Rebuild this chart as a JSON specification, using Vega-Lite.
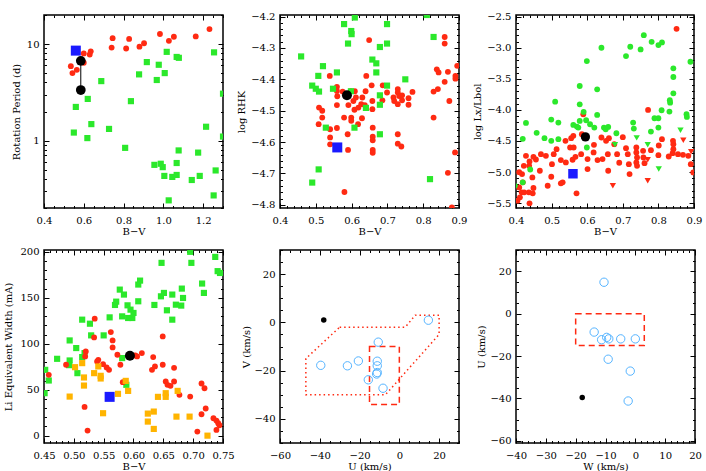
{
"$schema":"https://vega.github.io/schema/vega-lite/v6.json",
"autosize":{"type":"pad"},
"padding":{"left":2,"top":9,"right":0,"bottom":0},
"background":"white",
"config":{
 "view":{"stroke":"black","strokeWidth":1.5},
 "axis":{"grid":false,"domain":false,"labelFont":"DejaVu Serif","labelFontSize":10,"labelColor":"black","titleFont":"DejaVu Serif","titleFontSize":10,"titleFontWeight":"normal","titleColor":"black","tickColor":"black","tickWidth":1,"labelOverlap":false,"labelFlush":false,"labelPadding":10},
 "axisBottom":{"titleY":23,"titleBaseline":"middle","labelPadding":12},
 "axisLeft":{"titleBaseline":"middle"}
},
"datasets":{
 "p1_red":[{"bv":0.535,"p":5.9},{"bv":0.543,"p":5.0},{"bv":0.565,"p":5.4},{"bv":0.6,"p":8.0},{"bv":0.63,"p":7.8},{"bv":0.635,"p":8.4},{"bv":0.6,"p":6.4},{"bv":0.745,"p":11.5},{"bv":0.74,"p":9.2},{"bv":0.828,"p":11.3},{"bv":0.813,"p":9.0},{"bv":0.88,"p":9.4},{"bv":0.903,"p":10.2},{"bv":0.983,"p":12.7},{"bv":1.028,"p":10.8},{"bv":1.053,"p":11.9},{"bv":1.163,"p":12.0},{"bv":1.232,"p":14.3}],
 "p1_green":[{"bv":1.017,"p":8.3},{"bv":1.255,"p":8.2},{"bv":0.917,"p":6.5},{"bv":0.977,"p":6.1},{"bv":1.067,"p":7.35},{"bv":1.078,"p":7.2},{"bv":1.007,"p":5.0},{"bv":0.878,"p":4.85},{"bv":0.967,"p":4.24},{"bv":0.688,"p":4.13},{"bv":0.837,"p":2.56},{"bv":0.62,"p":2.7},{"bv":0.56,"p":2.23},{"bv":0.638,"p":1.48},{"bv":0.55,"p":1.21},{"bv":0.727,"p":1.32},{"bv":0.618,"p":1.06},{"bv":0.808,"p":0.84},{"bv":1.215,"p":1.39},{"bv":1.3,"p":1.1},{"bv":1.3,"p":3.06},{"bv":1.077,"p":0.79},{"bv":1.175,"p":0.75},{"bv":0.955,"p":0.56},{"bv":0.987,"p":0.575},{"bv":0.997,"p":0.53},{"bv":1.067,"p":0.585},{"bv":1.005,"p":0.43},{"bv":1.045,"p":0.42},{"bv":1.067,"p":0.44},{"bv":1.143,"p":0.39},{"bv":1.183,"p":0.43},{"bv":1.263,"p":0.49},{"bv":1.027,"p":0.24},{"bv":1.253,"p":0.27}],
 "p1_blue":[{"bv":0.56,"p":8.55}],
 "p1_black":[{"bv":0.585,"p":6.7},{"bv":0.585,"p":3.34}],
 "p1_link":[{"bv":0.585,"plo":3.34,"phi":6.7}],
 "p2_red":[{"bv":0.649,"v":-4.275},{"bv":0.86,"v":-4.265},{"bv":0.86,"v":-4.286},{"bv":0.641,"v":-4.389},{"bv":0.539,"v":-4.389},{"bv":0.838,"v":-4.368},{"bv":0.843,"v":-4.378},{"bv":0.869,"v":-4.376},{"bv":0.895,"v":-4.357},{"bv":0.89,"v":-4.389},{"bv":0.89,"v":-4.398},{"bv":0.86,"v":-4.408},{"bv":0.841,"v":-4.431},{"bv":0.829,"v":-4.439},{"bv":0.873,"v":-4.469},{"bv":0.829,"v":-4.522},{"bv":0.869,"v":-4.698},{"bv":0.88,"v":-4.808},{"bv":0.889,"v":-4.633},{"bv":0.559,"v":-4.424},{"bv":0.559,"v":-4.437},{"bv":0.56,"v":-4.454},{"bv":0.559,"v":-4.482},{"bv":0.509,"v":-4.49},{"bv":0.518,"v":-4.5},{"bv":0.518,"v":-4.522},{"bv":0.508,"v":-4.543},{"bv":0.54,"v":-4.559},{"bv":0.54,"v":-4.585},{"bv":0.54,"v":-4.607},{"bv":0.559,"v":-4.555},{"bv":0.575,"v":-4.439},{"bv":0.591,"v":-4.482},{"bv":0.598,"v":-4.438},{"bv":0.609,"v":-4.438},{"bv":0.612,"v":-4.458},{"bv":0.605,"v":-4.469},{"bv":0.579,"v":-4.522},{"bv":0.589,"v":-4.575},{"bv":0.59,"v":-4.625},{"bv":0.599,"v":-4.522},{"bv":0.599,"v":-4.532},{"bv":0.608,"v":-4.497},{"bv":0.619,"v":-4.49},{"bv":0.627,"v":-4.479},{"bv":0.637,"v":-4.482},{"bv":0.629,"v":-4.524},{"bv":0.618,"v":-4.543},{"bv":0.63,"v":-4.458},{"bv":0.639,"v":-4.438},{"bv":0.656,"v":-4.419},{"bv":0.658,"v":-4.469},{"bv":0.658,"v":-4.495},{"bv":0.659,"v":-4.554},{"bv":0.659,"v":-4.583},{"bv":0.659,"v":-4.594},{"bv":0.659,"v":-4.625},{"bv":0.659,"v":-4.634},{"bv":0.687,"v":-4.419},{"bv":0.686,"v":-4.467},{"bv":0.699,"v":-4.442},{"bv":0.717,"v":-4.458},{"bv":0.719,"v":-4.469},{"bv":0.729,"v":-4.431},{"bv":0.729,"v":-4.442},{"bv":0.733,"v":-4.453},{"bv":0.729,"v":-4.479},{"bv":0.741,"v":-4.451},{"bv":0.741,"v":-4.467},{"bv":0.759,"v":-4.46},{"bv":0.759,"v":-4.481},{"bv":0.77,"v":-4.44},{"bv":0.729,"v":-4.575},{"bv":0.729,"v":-4.605},{"bv":0.739,"v":-4.614},{"bv":0.58,"v":-4.759}],
 "p2_green":[{"bv":0.459,"v":-4.327},{"bv":0.579,"v":-4.224},{"bv":0.609,"v":-4.203},{"bv":0.599,"v":-4.246},{"bv":0.6,"v":-4.256},{"bv":0.59,"v":-4.286},{"bv":0.679,"v":-4.297},{"bv":0.699,"v":-4.224},{"bv":0.699,"v":-4.286},{"bv":0.81,"v":-4.195},{"bv":0.829,"v":-4.265},{"bv":0.52,"v":-4.358},{"bv":0.507,"v":-4.389},{"bv":0.559,"v":-4.378},{"bv":0.658,"v":-4.337},{"bv":0.669,"v":-4.349},{"bv":0.669,"v":-4.378},{"bv":0.75,"v":-4.4},{"bv":0.49,"v":-4.42},{"bv":0.5,"v":-4.43},{"bv":0.509,"v":-4.439},{"bv":0.548,"v":-4.43},{"bv":0.598,"v":-4.438},{"bv":0.699,"v":-4.42},{"bv":0.679,"v":-4.451},{"bv":0.679,"v":-4.481},{"bv":0.64,"v":-4.491},{"bv":0.528,"v":-4.554},{"bv":0.608,"v":-4.554},{"bv":0.679,"v":-4.575},{"bv":0.508,"v":-4.687},{"bv":0.49,"v":-4.729},{"bv":0.819,"v":-4.718}],
 "p2_blue":[{"bv":0.56,"v":-4.617}],
 "p2_black":[{"bv":0.587,"v":-4.451}],
 "p3_red":[{"bv":0.851,"v":-2.693},{"bv":0.771,"v":-4.0},{"bv":0.589,"v":-4.069},{"bv":0.539,"v":-4.498},{"bv":0.514,"v":-4.632},{"bv":0.552,"v":-4.605},{"bv":0.555,"v":-4.455},{"bv":0.561,"v":-4.417},{"bv":0.585,"v":-4.39},{"bv":0.619,"v":-4.562},{"bv":0.618,"v":-4.685},{"bv":0.64,"v":-4.444},{"bv":0.653,"v":-4.498},{"bv":0.661,"v":-4.455},{"bv":0.676,"v":-4.551},{"bv":0.7,"v":-4.439},{"bv":0.684,"v":-4.712},{"bv":0.709,"v":-4.616},{"bv":0.714,"v":-4.712},{"bv":0.738,"v":-4.605},{"bv":0.738,"v":-4.685},{"bv":0.74,"v":-4.766},{"bv":0.738,"v":-4.846},{"bv":0.74,"v":-4.9},{"bv":0.757,"v":-4.659},{"bv":0.758,"v":-4.766},{"bv":0.761,"v":-4.857},{"bv":0.779,"v":-4.648},{"bv":0.8,"v":-4.728},{"bv":0.81,"v":-4.471},{"bv":0.801,"v":-4.573},{"bv":0.829,"v":-4.75},{"bv":0.84,"v":-4.696},{"bv":0.842,"v":-4.632},{"bv":0.842,"v":-4.551},{"bv":0.841,"v":-4.498},{"bv":0.855,"v":-4.712},{"bv":0.869,"v":-4.723},{"bv":0.884,"v":-4.739},{"bv":0.891,"v":-4.873},{"bv":0.898,"v":-5.007},{"bv":0.717,"v":-4.873},{"bv":0.719,"v":-5.034},{"bv":0.69,"v":-4.851},{"bv":0.658,"v":-4.712},{"bv":0.659,"v":-4.98},{"bv":0.643,"v":-4.792},{"bv":0.629,"v":-4.808},{"bv":0.601,"v":-4.792},{"bv":0.601,"v":-4.953},{"bv":0.583,"v":-4.712},{"bv":0.567,"v":-4.755},{"bv":0.559,"v":-4.803},{"bv":0.562,"v":-4.605},{"bv":0.54,"v":-4.846},{"bv":0.526,"v":-4.808},{"bv":0.531,"v":-5.167},{"bv":0.526,"v":-5.183},{"bv":0.57,"v":-5.344},{"bv":0.506,"v":-4.712},{"bv":0.501,"v":-4.873},{"bv":0.499,"v":-5.077},{"bv":0.489,"v":-5.221},{"bv":0.484,"v":-4.739},{"bv":0.47,"v":-4.712},{"bv":0.467,"v":-4.98},{"bv":0.456,"v":-4.798},{"bv":0.449,"v":-4.755},{"bv":0.446,"v":-5.087},{"bv":0.438,"v":-4.83},{"bv":0.437,"v":-4.9},{"bv":0.428,"v":-4.739},{"bv":0.422,"v":-4.9},{"bv":0.417,"v":-5.034},{"bv":0.409,"v":-5.002},{"bv":0.409,"v":-5.248},{"bv":0.416,"v":-5.328},{"bv":0.411,"v":-5.408},{"bv":0.423,"v":-5.328},{"bv":0.436,"v":-5.328},{"bv":0.447,"v":-5.344},{"bv":0.449,"v":-5.258},{"bv":0.438,"v":-5.505},{"bv":0.404,"v":-5.462},{"bv":0.419,"v":-5.167}],
 "p3_red_up":[{"bv":0.77,"v":-4.803},{"bv":0.77,"v":-5.14},{"bv":0.672,"v":-5.22},{"bv":0.87,"v":-4.487},{"bv":0.892,"v":-4.675}],
 "p3_green":[{"bv":0.64,"v":-2.998},{"bv":0.709,"v":-3.132},{"bv":0.721,"v":-2.982},{"bv":0.75,"v":-3.025},{"bv":0.759,"v":-2.795},{"bv":0.781,"v":-2.902},{"bv":0.8,"v":-2.955},{"bv":0.81,"v":-2.912},{"bv":0.89,"v":-3.223},{"bv":0.599,"v":-3.212},{"bv":0.842,"v":-3.33},{"bv":0.842,"v":-3.469},{"bv":0.842,"v":-3.732},{"bv":0.832,"v":-3.844},{"bv":0.833,"v":-3.882},{"bv":0.809,"v":-4.005},{"bv":0.8,"v":-4.134},{"bv":0.789,"v":-4.134},{"bv":0.779,"v":-4.348},{"bv":0.8,"v":-4.284},{"bv":0.831,"v":-4.027},{"bv":0.879,"v":-4.069},{"bv":0.88,"v":-4.112},{"bv":0.628,"v":-3.668},{"bv":0.579,"v":-3.614},{"bv":0.579,"v":-3.909},{"bv":0.59,"v":-4.032},{"bv":0.51,"v":-3.866},{"bv":0.499,"v":-4.155},{"bv":0.519,"v":-4.203},{"bv":0.48,"v":-4.455},{"bv":0.458,"v":-4.369},{"bv":0.428,"v":-4.209},{"bv":0.419,"v":-4.466},{"bv":0.499,"v":-4.498},{"bv":0.519,"v":-4.471},{"bv":0.561,"v":-4.241},{"bv":0.571,"v":-4.268},{"bv":0.579,"v":-4.177},{"bv":0.575,"v":-4.284},{"bv":0.597,"v":-4.166},{"bv":0.608,"v":-4.23},{"bv":0.628,"v":-4.08},{"bv":0.62,"v":-4.284},{"bv":0.647,"v":-4.284},{"bv":0.659,"v":-4.273},{"bv":0.652,"v":-4.311},{"bv":0.682,"v":-4.375},{"bv":0.729,"v":-4.203},{"bv":0.731,"v":-4.3},{"bv":0.599,"v":-4.605},{"bv":0.44,"v":-4.959},{"bv":0.419,"v":-5.167},{"bv":0.397,"v":-5.221}],
 "p3_green_up":[{"bv":0.678,"v":-4.562},{"bv":0.739,"v":-4.45},{"bv":0.77,"v":-4.562},{"bv":0.801,"v":-4.953},{"bv":0.862,"v":-4.327}],
 "p3_blue":[{"bv":0.56,"v":-5.028}],
 "p3_black":[{"bv":0.595,"v":-4.434}],
 "p4_red":[{"bv":0.535,"ew":127.3},{"bv":0.534,"ew":106.9},{"bv":0.562,"ew":112.7},{"bv":0.565,"ew":103.6},{"bv":0.565,"ew":96.0},{"bv":0.52,"ew":91.6},{"bv":0.519,"ew":86.2},{"bv":0.573,"ew":88},{"bv":0.541,"ew":82.5},{"bv":0.539,"ew":80.7},{"bv":0.549,"ew":77.8},{"bv":0.555,"ew":74.2},{"bv":0.559,"ew":71.6},{"bv":0.578,"ew":77.1},{"bv":0.582,"ew":58.2},{"bv":0.487,"ew":77.1},{"bv":0.458,"ew":66.2},{"bv":0.603,"ew":87.3},{"bv":0.606,"ew":86.2},{"bv":0.614,"ew":89.8},{"bv":0.633,"ew":85.5},{"bv":0.636,"ew":75.3},{"bv":0.631,"ew":71.6},{"bv":0.649,"ew":108},{"bv":0.649,"ew":77.1},{"bv":0.668,"ew":73.8},{"bv":0.654,"ew":58.9},{"bv":0.657,"ew":55.3},{"bv":0.662,"ew":54.2},{"bv":0.668,"ew":58.9},{"bv":0.677,"ew":44.4},{"bv":0.695,"ew":42.5},{"bv":0.714,"ew":56.7},{"bv":0.719,"ew":51.6},{"bv":0.714,"ew":23.3},{"bv":0.721,"ew":29.5},{"bv":0.707,"ew":4.4},{"bv":0.734,"ew":18.9},{"bv":0.739,"ew":16.4},{"bv":0.742,"ew":13.5},{"bv":0.744,"ew":11.3},{"bv":0.739,"ew":6.2},{"bv":0.518,"ew":31.3},{"bv":0.523,"ew":5.5}],
 "p4_green":[{"bv":0.695,"ew":200},{"bv":0.737,"ew":194.5},{"bv":0.697,"ew":188},{"bv":0.647,"ew":188},{"bv":0.741,"ew":179},{"bv":0.745,"ew":177},{"bv":0.715,"ew":165.5},{"bv":0.718,"ew":155.3},{"bv":0.611,"ew":168.7},{"bv":0.608,"ew":164.4},{"bv":0.577,"ew":158.9},{"bv":0.584,"ew":153.5},{"bv":0.651,"ew":155.3},{"bv":0.646,"ew":151.6},{"bv":0.665,"ew":153.5},{"bv":0.681,"ew":160},{"bv":0.683,"ew":149.8},{"bv":0.68,"ew":141.5},{"bv":0.671,"ew":142.5},{"bv":0.608,"ew":146.2},{"bv":0.59,"ew":141.8},{"bv":0.635,"ew":142.2},{"bv":0.569,"ew":142.2},{"bv":0.571,"ew":145.8},{"bv":0.595,"ew":137.1},{"bv":0.598,"ew":128},{"bv":0.591,"ew":128},{"bv":0.581,"ew":129.8},{"bv":0.56,"ew":128.7},{"bv":0.6,"ew":133.5},{"bv":0.656,"ew":136.4},{"bv":0.665,"ew":126.2},{"bv":0.514,"ew":126.2},{"bv":0.527,"ew":121.8},{"bv":0.529,"ew":109.1},{"bv":0.55,"ew":109.1},{"bv":0.493,"ew":103.6},{"bv":0.504,"ew":95.3},{"bv":0.472,"ew":83.6},{"bv":0.493,"ew":81.8},{"bv":0.492,"ew":76.7},{"bv":0.518,"ew":89.8},{"bv":0.514,"ew":85.5},{"bv":0.506,"ew":68},{"bv":0.581,"ew":84.4},{"bv":0.588,"ew":55.3},{"bv":0.452,"ew":71.6},{"bv":0.458,"ew":60},{"bv":0.451,"ew":46.2}],
 "p4_orange":[{"bv":0.514,"ew":78.9},{"bv":0.502,"ew":74.5},{"bv":0.517,"ew":63.3},{"bv":0.517,"ew":54.5},{"bv":0.534,"ew":68},{"bv":0.541,"ew":75.3},{"bv":0.545,"ew":65.1},{"bv":0.545,"ew":62.2},{"bv":0.493,"ew":42.5},{"bv":0.549,"ew":24.4},{"bv":0.574,"ew":45.5},{"bv":0.587,"ew":59.6},{"bv":0.591,"ew":48.7},{"bv":0.624,"ew":24},{"bv":0.624,"ew":15.3},{"bv":0.634,"ew":26.2},{"bv":0.634,"ew":7.3},{"bv":0.641,"ew":42.2},{"bv":0.654,"ew":46.2},{"bv":0.654,"ew":42.2},{"bv":0.674,"ew":48.7},{"bv":0.672,"ew":20.7},{"bv":0.694,"ew":20.7},{"bv":0.724,"ew":0}],
 "p4_blue":[{"bv":0.56,"ew":42.2}],
 "p4_black":[{"bv":0.594,"ew":86.9}],
 "p5_stars":[{"u":14.6,"v":0.9},{"u":-10.6,"v":-8.2},{"u":-39.5,"v":-17.8},{"u":-26.1,"v":-18},{"u":-20.6,"v":-16},{"u":-11.1,"v":-16.1},{"u":-11.1,"v":-18},{"u":-11.1,"v":-20.8},{"u":-11.4,"v":-21.4},{"u":-15.6,"v":-23.8},{"u":-8.2,"v":-27.3}],
 "p5_sun":[{"u":-38,"v":1}],
 "p5_poly":[{"i":0,"u":-30,"v":-2},{"i":1,"u":3,"v":-2},{"i":2,"u":8,"v":3},{"i":3,"u":20,"v":3},{"i":4,"u":20,"v":-5},{"i":5,"u":-7,"v":-30},{"i":6,"u":-47,"v":-30},{"i":7,"u":-47,"v":-15},{"i":8,"u":-30,"v":-2}],
 "p5_box":[{"u1":-15,"u2":0,"v1":-34,"v2":-10}],
 "p6_stars":[{"w":-10.5,"u":14.8},{"w":-13.8,"u":-8.7},{"w":-11.3,"u":-12.3},{"w":-9.6,"u":-11.2},{"w":-8.9,"u":-11.9},{"w":-4.9,"u":-11.9},{"w":0.0,"u":-11.9},{"w":-9.1,"u":-21.5},{"w":-1.7,"u":-27.1},{"w":-2.4,"u":-41.2}],
 "p6_sun":[{"w":-17.8,"u":-39.6}],
 "p6_box":[{"w1":-20,"w2":3,"u1":-15,"u2":0}]
},
"concat":[
 {"width":179,"height":193,
  "layer":[
   {"data":{"name":"p1_red"},"mark":{"type":"point","shape":"circle","filled":true,"color":"#ff2a12","size":34,"opacity":1,"clip":true},
    "encoding":{
     "x":{"field":"bv","type":"quantitative","scale":{"domain":[0.4,1.3],"nice":false,"zero":false},
      "axis":{"orient":"bottom","title":"B−V","values":[0.4,0.45,0.5,0.55,0.6,0.65,0.7,0.75,0.8,0.85,0.9,0.95,1.0,1.05,1.1,1.15,1.2,1.25,1.3],"labelExpr":"abs(datum.value*5-round(datum.value*5))<0.001 ? format(datum.value,'.1f') : ''","tickSize":{"condition":{"test":"abs(datum.value*5-round(datum.value*5))<0.001","value":-5},"value":-2.5}}},
     "y":{"field":"p","type":"quantitative","scale":{"type":"log","domain":[0.2,20],"nice":false},
      "axis":{"orient":"left","title":"Rotation Period (d)","titleX":-28,"values":[0.2,0.3,0.4,0.5,0.6,0.7,0.8,0.9,1,2,3,4,5,6,7,8,9,10,20],"labelExpr":"datum.value==1||datum.value==10 ? format(datum.value,'d') : ''","tickSize":{"condition":{"test":"datum.value==1||datum.value==10","value":-5},"value":-2.5}}}}},
   {"data":{"name":"p1_green"},"mark":{"type":"point","shape":"square","filled":true,"color":"#2be82b","size":38,"opacity":1,"clip":true},
    "encoding":{
     "x":{"field":"bv","type":"quantitative","scale":{"domain":[0.4,1.3],"nice":false,"zero":false},
      "axis":{"orient":"top","labels":false,"title":null,"values":[0.4,0.45,0.5,0.55,0.6,0.65,0.7,0.75,0.8,0.85,0.9,0.95,1.0,1.05,1.1,1.15,1.2,1.25,1.3],"tickSize":{"condition":{"test":"abs(datum.value*5-round(datum.value*5))<0.001","value":-5},"value":-2.5}}},
     "y":{"field":"p","type":"quantitative","scale":{"type":"log","domain":[0.2,20],"nice":false},
      "axis":{"orient":"right","labels":false,"title":null,"values":[0.2,0.3,0.4,0.5,0.6,0.7,0.8,0.9,1,2,3,4,5,6,7,8,9,10,20],"tickSize":{"condition":{"test":"datum.value==1||datum.value==10","value":-5},"value":-2.5}}}}},
   {"data":{"name":"p1_blue"},"mark":{"type":"point","shape":"square","filled":true,"color":"#1a1aff","size":100,"opacity":1,"clip":true},
    "encoding":{"x":{"field":"bv","type":"quantitative","axis":null},"y":{"field":"p","type":"quantitative","axis":null}}},
   {"data":{"name":"p1_link"},"mark":{"type":"rule","color":"black","strokeWidth":1},
    "encoding":{"x":{"field":"bv","type":"quantitative","axis":null},"y":{"field":"plo","type":"quantitative","axis":null},"y2":{"field":"phi"}}},
   {"data":{"name":"p1_black"},"mark":{"type":"point","shape":"circle","filled":true,"color":"black","size":95,"opacity":1,"clip":true},
    "encoding":{"x":{"field":"bv","type":"quantitative","axis":null},"y":{"field":"p","type":"quantitative","axis":null}}}
  ],
  "resolve":{"axis":{"x":"independent","y":"independent"}}},
 {"width":179,"height":193,
  "layer":[
   {"data":{"name":"p2_red"},"mark":{"type":"point","shape":"circle","filled":true,"color":"#ff2a12","size":34,"opacity":1,"clip":true},
    "encoding":{
     "x":{"field":"bv","type":"quantitative","scale":{"domain":[0.4,0.9],"nice":false,"zero":false},
      "axis":{"orient":"bottom","title":"B−V","values":[0.4,0.42,0.44,0.46,0.48,0.5,0.52,0.54,0.56,0.58,0.6,0.62,0.64,0.66,0.68,0.7,0.72,0.74,0.76,0.78,0.8,0.82,0.84,0.86,0.88,0.9],"labelExpr":"abs(datum.value*10-round(datum.value*10))<0.001 ? format(datum.value,'.1f') : ''","tickSize":{"condition":{"test":"abs(datum.value*10-round(datum.value*10))<0.001","value":-5},"value":-2.5}}},
     "y":{"field":"v","type":"quantitative","scale":{"domain":[-4.81,-4.195],"nice":false,"zero":false},
      "axis":{"orient":"left","title":"log RHK","titleX":-39,"values":[-4.8,-4.78,-4.76,-4.74,-4.72,-4.7,-4.68,-4.66,-4.64,-4.62,-4.6,-4.58,-4.56,-4.54,-4.52,-4.5,-4.48,-4.46,-4.44,-4.42,-4.4,-4.38,-4.36,-4.34,-4.32,-4.3,-4.28,-4.26,-4.24,-4.22,-4.2],"labelExpr":"abs(datum.value*10-round(datum.value*10))<0.001 ? format(datum.value,'.1f') : ''","tickSize":{"condition":{"test":"abs(datum.value*10-round(datum.value*10))<0.001","value":-5},"value":-2.5}}}}},
   {"data":{"name":"p2_green"},"mark":{"type":"point","shape":"square","filled":true,"color":"#2be82b","size":38,"opacity":1,"clip":true},
    "encoding":{
     "x":{"field":"bv","type":"quantitative","scale":{"domain":[0.4,0.9],"nice":false,"zero":false},
      "axis":{"orient":"top","labels":false,"title":null,"values":[0.4,0.42,0.44,0.46,0.48,0.5,0.52,0.54,0.56,0.58,0.6,0.62,0.64,0.66,0.68,0.7,0.72,0.74,0.76,0.78,0.8,0.82,0.84,0.86,0.88,0.9],"tickSize":{"condition":{"test":"abs(datum.value*10-round(datum.value*10))<0.001","value":-5},"value":-2.5}}},
     "y":{"field":"v","type":"quantitative","scale":{"domain":[-4.81,-4.195],"nice":false,"zero":false},
      "axis":{"orient":"right","labels":false,"title":null,"values":[-4.8,-4.78,-4.76,-4.74,-4.72,-4.7,-4.68,-4.66,-4.64,-4.62,-4.6,-4.58,-4.56,-4.54,-4.52,-4.5,-4.48,-4.46,-4.44,-4.42,-4.4,-4.38,-4.36,-4.34,-4.32,-4.3,-4.28,-4.26,-4.24,-4.22,-4.2],"tickSize":{"condition":{"test":"abs(datum.value*10-round(datum.value*10))<0.001","value":-5},"value":-2.5}}}}},
   {"data":{"name":"p2_blue"},"mark":{"type":"point","shape":"square","filled":true,"color":"#1a1aff","size":100,"opacity":1,"clip":true},
    "encoding":{"x":{"field":"bv","type":"quantitative","axis":null},"y":{"field":"v","type":"quantitative","axis":null}}},
   {"data":{"name":"p2_black"},"mark":{"type":"point","shape":"circle","filled":true,"color":"black","size":100,"opacity":1,"clip":true},
    "encoding":{"x":{"field":"bv","type":"quantitative","axis":null},"y":{"field":"v","type":"quantitative","axis":null}}}
  ],
  "resolve":{"axis":{"x":"independent","y":"independent"}}},
 {"width":178,"height":193,
  "layer":[
   {"data":{"name":"p3_red"},"mark":{"type":"point","shape":"circle","filled":true,"color":"#ff2a12","size":34,"opacity":1,"clip":true},
    "encoding":{
     "x":{"field":"bv","type":"quantitative","scale":{"domain":[0.4,0.9],"nice":false,"zero":false},
      "axis":{"orient":"bottom","title":"B−V","values":[0.4,0.42,0.44,0.46,0.48,0.5,0.52,0.54,0.56,0.58,0.6,0.62,0.64,0.66,0.68,0.7,0.72,0.74,0.76,0.78,0.8,0.82,0.84,0.86,0.88,0.9],"labelExpr":"abs(datum.value*10-round(datum.value*10))<0.001 ? format(datum.value,'.1f') : ''","tickSize":{"condition":{"test":"abs(datum.value*10-round(datum.value*10))<0.001","value":-5},"value":-2.5}}},
     "y":{"field":"v","type":"quantitative","scale":{"domain":[-5.58,-2.47],"nice":false,"zero":false},
      "axis":{"orient":"left","title":"log Lx/Lbol","titleX":-39,"values":[-5.5,-5.4,-5.3,-5.2,-5.1,-5.0,-4.9,-4.8,-4.7,-4.6,-4.5,-4.4,-4.3,-4.2,-4.1,-4.0,-3.9,-3.8,-3.7,-3.6,-3.5,-3.4,-3.3,-3.2,-3.1,-3.0,-2.9,-2.8,-2.7,-2.6,-2.5],"labelExpr":"abs(datum.value*2-round(datum.value*2))<0.001 ? format(datum.value,'.1f') : ''","tickSize":{"condition":{"test":"abs(datum.value*2-round(datum.value*2))<0.001","value":-5},"value":-2.5}}}}},
   {"data":{"name":"p3_red_up"},"mark":{"type":"point","shape":"triangle-down","filled":true,"color":"#ff2a12","size":40,"opacity":1,"clip":true},
    "encoding":{
     "x":{"field":"bv","type":"quantitative","scale":{"domain":[0.4,0.9],"nice":false,"zero":false},
      "axis":{"orient":"top","labels":false,"title":null,"values":[0.4,0.42,0.44,0.46,0.48,0.5,0.52,0.54,0.56,0.58,0.6,0.62,0.64,0.66,0.68,0.7,0.72,0.74,0.76,0.78,0.8,0.82,0.84,0.86,0.88,0.9],"tickSize":{"condition":{"test":"abs(datum.value*10-round(datum.value*10))<0.001","value":-5},"value":-2.5}}},
     "y":{"field":"v","type":"quantitative","scale":{"domain":[-5.58,-2.47],"nice":false,"zero":false},
      "axis":{"orient":"right","labels":false,"title":null,"values":[-5.5,-5.4,-5.3,-5.2,-5.1,-5.0,-4.9,-4.8,-4.7,-4.6,-4.5,-4.4,-4.3,-4.2,-4.1,-4.0,-3.9,-3.8,-3.7,-3.6,-3.5,-3.4,-3.3,-3.2,-3.1,-3.0,-2.9,-2.8,-2.7,-2.6,-2.5],"tickSize":{"condition":{"test":"abs(datum.value*2-round(datum.value*2))<0.001","value":-5},"value":-2.5}}}}},
   {"data":{"name":"p3_green"},"mark":{"type":"point","shape":"circle","filled":true,"color":"#2be82b","size":34,"opacity":1,"clip":true},
    "encoding":{"x":{"field":"bv","type":"quantitative","axis":null},"y":{"field":"v","type":"quantitative","axis":null}}},
   {"data":{"name":"p3_green_up"},"mark":{"type":"point","shape":"triangle-down","filled":true,"color":"#2be82b","size":40,"opacity":1,"clip":true},
    "encoding":{"x":{"field":"bv","type":"quantitative","axis":null},"y":{"field":"v","type":"quantitative","axis":null}}},
   {"data":{"name":"p3_blue"},"mark":{"type":"point","shape":"square","filled":true,"color":"#1a1aff","size":90,"opacity":1,"clip":true},
    "encoding":{"x":{"field":"bv","type":"quantitative","axis":null},"y":{"field":"v","type":"quantitative","axis":null}}},
   {"data":{"name":"p3_black"},"mark":{"type":"point","shape":"circle","filled":true,"color":"black","size":85,"opacity":1,"clip":true},
    "encoding":{"x":{"field":"bv","type":"quantitative","axis":null},"y":{"field":"v","type":"quantitative","axis":null}}}
  ],
  "resolve":{"axis":{"x":"independent","y":"independent"}}},
 {"width":179,"height":193,
  "layer":[
   {"data":{"name":"p4_green"},"mark":{"type":"point","shape":"square","filled":true,"color":"#2be82b","size":38,"opacity":1,"clip":true},
    "encoding":{
     "x":{"field":"bv","type":"quantitative","scale":{"domain":[0.45,0.75],"nice":false,"zero":false},
      "axis":{"orient":"bottom","title":"B−V","values":[0.45,0.46,0.47,0.48,0.49,0.5,0.51,0.52,0.53,0.54,0.55,0.56,0.57,0.58,0.59,0.6,0.61,0.62,0.63,0.64,0.65,0.66,0.67,0.68,0.69,0.7,0.71,0.72,0.73,0.74,0.75],"labelExpr":"abs(datum.value*20-round(datum.value*20))<0.001 ? format(datum.value,'.2f') : ''","tickSize":{"condition":{"test":"abs(datum.value*20-round(datum.value*20))<0.001","value":-5},"value":-2.5}}},
     "y":{"field":"ew","type":"quantitative","scale":{"domain":[-8,202],"nice":false,"zero":false},
      "axis":{"orient":"left","title":"Li Equivalent Width (mA)","titleX":-36,"values":[0,10,20,30,40,50,60,70,80,90,100,110,120,130,140,150,160,170,180,190,200],"labelExpr":"datum.value%50==0 ? format(datum.value,'d') : ''","tickSize":{"condition":{"test":"datum.value%50==0","value":-5},"value":-2.5}}}}},
   {"data":{"name":"p4_red"},"mark":{"type":"point","shape":"circle","filled":true,"color":"#ff2a12","size":34,"opacity":1,"clip":true},
    "encoding":{
     "x":{"field":"bv","type":"quantitative","scale":{"domain":[0.45,0.75],"nice":false,"zero":false},
      "axis":{"orient":"top","labels":false,"title":null,"values":[0.45,0.46,0.47,0.48,0.49,0.5,0.51,0.52,0.53,0.54,0.55,0.56,0.57,0.58,0.59,0.6,0.61,0.62,0.63,0.64,0.65,0.66,0.67,0.68,0.69,0.7,0.71,0.72,0.73,0.74,0.75],"tickSize":{"condition":{"test":"abs(datum.value*20-round(datum.value*20))<0.001","value":-5},"value":-2.5}}},
     "y":{"field":"ew","type":"quantitative","scale":{"domain":[-8,202],"nice":false,"zero":false},
      "axis":{"orient":"right","labels":false,"title":null,"values":[0,10,20,30,40,50,60,70,80,90,100,110,120,130,140,150,160,170,180,190,200],"tickSize":{"condition":{"test":"datum.value%50==0","value":-5},"value":-2.5}}}}},
   {"data":{"name":"p4_orange"},"mark":{"type":"point","shape":"square","filled":true,"color":"#ffb400","size":38,"opacity":1,"clip":true},
    "encoding":{"x":{"field":"bv","type":"quantitative","axis":null},"y":{"field":"ew","type":"quantitative","axis":null}}},
   {"data":{"name":"p4_blue"},"mark":{"type":"point","shape":"square","filled":true,"color":"#1a1aff","size":100,"opacity":1,"clip":true},
    "encoding":{"x":{"field":"bv","type":"quantitative","axis":null},"y":{"field":"ew","type":"quantitative","axis":null}}},
   {"data":{"name":"p4_black"},"mark":{"type":"point","shape":"circle","filled":true,"color":"black","size":100,"opacity":1,"clip":true},
    "encoding":{"x":{"field":"bv","type":"quantitative","axis":null},"y":{"field":"ew","type":"quantitative","axis":null}}}
  ],
  "resolve":{"axis":{"x":"independent","y":"independent"}}},
 {"width":179,"height":193,
  "layer":[
   {"data":{"name":"p5_poly"},"mark":{"type":"line","color":"#ff2a12","strokeWidth":1.5,"strokeDash":[1.5,3],"clip":true},
    "encoding":{
     "x":{"field":"u","type":"quantitative","scale":{"domain":[-60,30],"nice":false,"zero":false},
      "axis":{"orient":"bottom","title":"U (km/s)","values":[-60,-55,-50,-45,-40,-35,-30,-25,-20,-15,-10,-5,0,5,10,15,20,25,30],"labelExpr":"datum.value%20==0 ? format(datum.value,'d') : ''","tickSize":{"condition":{"test":"datum.value%20==0","value":-5},"value":-2.5}}},
     "y":{"field":"v","type":"quantitative","scale":{"domain":[-50,30],"nice":false,"zero":false},
      "axis":{"orient":"left","title":"V (km/s)","titleX":-34,"values":[-50,-45,-40,-35,-30,-25,-20,-15,-10,-5,0,5,10,15,20,25,30],"labelExpr":"datum.value%20==0 ? format(datum.value,'d') : ''","tickSize":{"condition":{"test":"datum.value%20==0","value":-5},"value":-2.5}}},
     "order":{"field":"i","type":"quantitative"}}},
   {"data":{"name":"p5_box"},"mark":{"type":"rect","fill":null,"fillOpacity":0,"stroke":"#ff2a12","strokeWidth":1.5,"strokeDash":[6,4]},
    "encoding":{
     "x":{"field":"u1","type":"quantitative","scale":{"domain":[-60,30],"nice":false,"zero":false},
      "axis":{"orient":"top","labels":false,"title":null,"values":[-60,-55,-50,-45,-40,-35,-30,-25,-20,-15,-10,-5,0,5,10,15,20,25,30],"tickSize":{"condition":{"test":"datum.value%20==0","value":-5},"value":-2.5}}},
     "x2":{"field":"u2"},
     "y":{"field":"v1","type":"quantitative","scale":{"domain":[-50,30],"nice":false,"zero":false},
      "axis":{"orient":"right","labels":false,"title":null,"values":[-50,-45,-40,-35,-30,-25,-20,-15,-10,-5,0,5,10,15,20,25,30],"tickSize":{"condition":{"test":"datum.value%20==0","value":-5},"value":-2.5}}},
     "y2":{"field":"v2"}}},
   {"data":{"name":"p5_stars"},"mark":{"type":"point","shape":"circle","filled":false,"color":"#55b4ff","strokeWidth":1,"size":70,"opacity":1,"clip":true},
    "encoding":{"x":{"field":"u","type":"quantitative","axis":null},"y":{"field":"v","type":"quantitative","axis":null}}},
   {"data":{"name":"p5_sun"},"mark":{"type":"point","shape":"circle","filled":true,"color":"black","size":30,"opacity":1,"clip":true},
    "encoding":{"x":{"field":"u","type":"quantitative","axis":null},"y":{"field":"v","type":"quantitative","axis":null}}}
  ],
  "resolve":{"axis":{"x":"independent","y":"independent"}}},
 {"width":179,"height":193,
  "layer":[
   {"data":{"name":"p6_box"},"mark":{"type":"rect","fill":null,"fillOpacity":0,"stroke":"#ff2a12","strokeWidth":1.5,"strokeDash":[6,4]},
    "encoding":{
     "x":{"field":"w1","type":"quantitative","scale":{"domain":[-40,20],"nice":false,"zero":false},
      "axis":{"orient":"bottom","title":"W (km/s)","values":[-40,-38,-36,-34,-32,-30,-28,-26,-24,-22,-20,-18,-16,-14,-12,-10,-8,-6,-4,-2,0,2,4,6,8,10,12,14,16,18,20],"labelExpr":"datum.value%10==0 ? format(datum.value,'d') : ''","tickSize":{"condition":{"test":"datum.value%10==0","value":-5},"value":-2.5}}},
     "x2":{"field":"w2"},
     "y":{"field":"u1","type":"quantitative","scale":{"domain":[-61,30],"nice":false,"zero":false},
      "axis":{"orient":"left","title":"U (km/s)","titleX":-35,"values":[-60,-55,-50,-45,-40,-35,-30,-25,-20,-15,-10,-5,0,5,10,15,20,25,30],"labelExpr":"datum.value%20==0 ? format(datum.value,'d') : ''","tickSize":{"condition":{"test":"datum.value%20==0","value":-5},"value":-2.5}}},
     "y2":{"field":"u2"}}},
   {"data":{"name":"p6_stars"},"mark":{"type":"point","shape":"circle","filled":false,"color":"#55b4ff","strokeWidth":1,"size":70,"opacity":1,"clip":true},
    "encoding":{
     "x":{"field":"w","type":"quantitative","scale":{"domain":[-40,20],"nice":false,"zero":false},
      "axis":{"orient":"top","labels":false,"title":null,"values":[-40,-38,-36,-34,-32,-30,-28,-26,-24,-22,-20,-18,-16,-14,-12,-10,-8,-6,-4,-2,0,2,4,6,8,10,12,14,16,18,20],"tickSize":{"condition":{"test":"datum.value%10==0","value":-5},"value":-2.5}}},
     "y":{"field":"u","type":"quantitative","scale":{"domain":[-61,30],"nice":false,"zero":false},
      "axis":{"orient":"right","labels":false,"title":null,"values":[-60,-55,-50,-45,-40,-35,-30,-25,-20,-15,-10,-5,0,5,10,15,20,25,30],"tickSize":{"condition":{"test":"datum.value%20==0","value":-5},"value":-2.5}}}}},
   {"data":{"name":"p6_sun"},"mark":{"type":"point","shape":"circle","filled":true,"color":"black","size":30,"opacity":1,"clip":true},
    "encoding":{"x":{"field":"w","type":"quantitative","axis":null},"y":{"field":"u","type":"quantitative","axis":null}}}
  ],
  "resolve":{"axis":{"x":"independent","y":"independent"}}}
],
"columns":3,
"spacing":{"row":42,"column":57},
"bounds":"flush"
}
